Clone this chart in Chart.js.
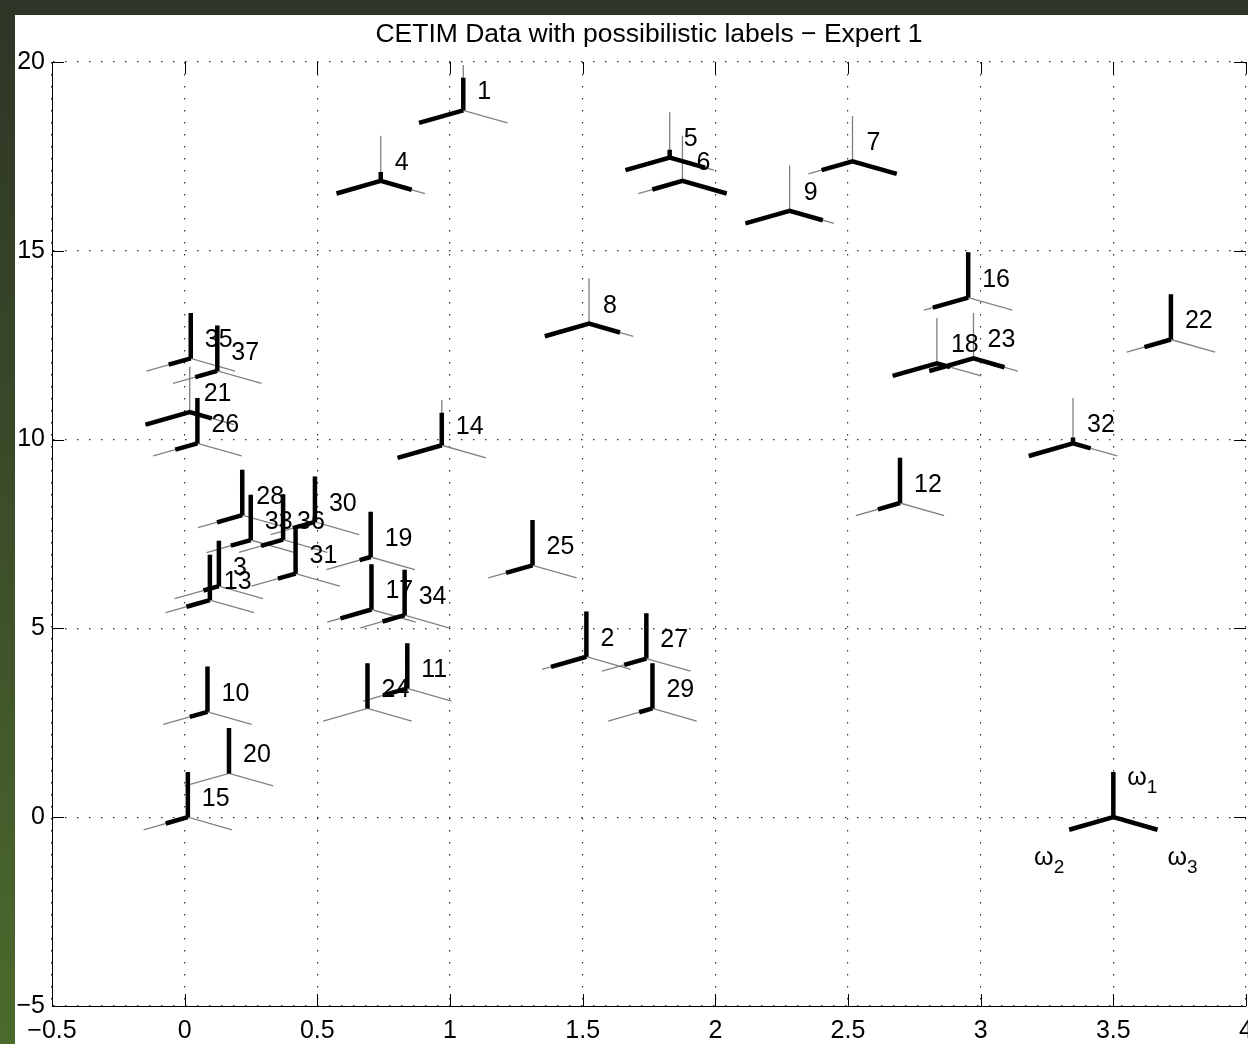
<!DOCTYPE html>
<html>
<head>
<meta charset="utf-8">
<script src="https://cdn.jsdelivr.net/npm/chart.js@4.4.1/dist/chart.umd.min.js"></script>
<style>
  html, body { margin: 0; padding: 0; }
  body {
    width: 1248px; height: 1044px; position: relative; overflow: hidden;
    background: linear-gradient(to bottom, #2e3526 0%, #3a4b29 45%, #4c6a2c 100%);
  }
  #wrap { position: absolute; left: 15px; top: 15px; width: 1233px; height: 1029px; background: #fff; }
</style>
</head>
<body>
<div id="wrap"><canvas id="chart" width="1233" height="1029"></canvas></div>
<script>
// --- data ---
const pointIds = [1, 2, 3, 4, 5, 6, 7, 8, 9, 10, 11, 12, 13, 14, 15, 16, 17, 18, 19,
                  20, 21, 22, 23, 24, 25, 26, 27, 28, 29, 30, 31, 32, 33, 34, 35, 36, 37];
const xValues = [1.050, 1.514, 0.129, 0.739, 1.828, 1.876, 2.517, 1.524, 2.280, 0.086,
                 0.839, 2.696, 0.095, 0.969, 0.012, 2.953, 0.704, 2.835, 0.701, 0.167,
                 0.019, 3.717, 2.973, 0.689, 1.311, 0.048, 1.740, 0.217, 1.763, 0.491,
                 0.418, 3.348, 0.249, 0.829, 0.023, 0.371, 0.123];
const yValues = [18.72, 4.25, 6.12, 16.85, 17.47, 16.85, 17.37, 13.07, 16.06, 2.79,
                 3.41, 8.32, 5.75, 9.85, 0.00, 13.76, 5.50, 12.02, 6.89, 1.16,
                 10.73, 12.65, 12.15, 2.88, 6.67, 9.90, 4.20, 8.00, 2.88, 7.82,
                 6.45, 9.90, 7.34, 5.35, 12.15, 7.35, 11.82];
// possibility degrees for omega1 (up), omega2 (lower left), omega3 (lower right)
const piOmega1 = [0.72, 1, 1, 0.2, 0.17, 0, 0, 0, 0, 1,
                  1, 1, 1, 0.72, 1, 1, 1, 0, 1, 1,
                  0, 1, 0, 1, 1, 1, 1, 1, 1, 1,
                  1, 0.13, 1, 1, 1, 1, 1];
const piOmega2 = [1, 0.8, 0.35, 1, 1, 0.68, 0.7, 1, 1, 0.4,
                  0.55, 0.5, 0.53, 1, 0.5, 0.8, 0.7, 1, 0.25, 0,
                  1, 0.6, 1, 0, 0.6, 0.5, 0.5, 0.57, 0.3, 0.5,
                  0.4, 1, 0.45, 0.5, 0.5, 0.5, 0.5];
const piOmega3 = [0, 0, 0, 0.7, 0.8, 1, 1, 0.7, 0.75, 0,
                  0, 0, 0, 0, 0, 0, 0, 0.3, 0, 0,
                  0.5, 0, 0.7, 0, 0, 0, 0, 0, 0, 0,
                  0, 0.4, 0, 0, 0, 0, 0];
const keyPosition = [3.5, 0];
const classNames = ['ω', 'ω', 'ω'];
const classIndex = ['1', '2', '3'];
const xTicks = [-0.5, 0, 0.5, 1, 1.5, 2, 2.5, 3, 3.5, 4];
const yTicks = [-5, 0, 5, 10, 15, 20];
const titleText = 'CETIM Data with possibilistic labels − Expert 1';

// glyph arm directions (data units)
const ARM_UP = [0, 1.2];
const ARM_LEFT = [-1 / 6, -1 / 3];
const ARM_RIGHT = [1 / 6, -1 / 3];
const FONT = '"Liberation Sans", Arial, Helvetica, sans-serif';

function glyph(cx, cy, p1, p2, p3) {
    return [
        { x: cx + p2 * ARM_LEFT[0], y: cy + p2 * ARM_LEFT[1] },
        { x: cx, y: cy },
        { x: cx + p3 * ARM_RIGHT[0], y: cy + p3 * ARM_RIGHT[1] },
        { x: cx, y: null },
        { x: cx, y: cy },
        { x: cx, y: cy + p1 * ARM_UP[1] },
        { x: cx, y: null }
    ];
}

const grayArms = [];
const blackArms = [];
xValues.forEach((xv, i) => {
    grayArms.push(...glyph(xv, yValues[i], 1, 1, 1));
    blackArms.push(...glyph(xv, yValues[i], piOmega1[i], piOmega2[i], piOmega3[i]));
});
blackArms.push(...glyph(keyPosition[0], keyPosition[1], 1, 1, 1));

const fmt = v => (v < 0 ? '−' : '') + Math.abs(v);

// --- labels next to each glyph, and the omega key ---
const labelPlugin = {
    id: 'glyphLabels',
    afterDatasetsDraw(chart) {
        const { ctx, scales: { x, y } } = chart;
        ctx.save();
        ctx.fillStyle = '#000';
        ctx.textBaseline = 'middle';
        ctx.textAlign = 'left';
        ctx.font = '25px ' + FONT;
        pointIds.forEach((id, i) => {
            ctx.fillText(String(id), x.getPixelForValue(xValues[i]) + 14, y.getPixelForValue(yValues[i]) - 18);
        });

        const kx = keyPosition[0], ky = keyPosition[1];
        const ends = [
            [kx + ARM_UP[0], ky + ARM_UP[1], 14, 6],
            [kx + ARM_LEFT[0], ky + ARM_LEFT[1], -35, 28],
            [kx + ARM_RIGHT[0], ky + ARM_RIGHT[1], 10, 28]
        ];
        ends.forEach((e, k) => {
            const px = x.getPixelForValue(e[0]) + e[2];
            const py = y.getPixelForValue(e[1]) + e[3];
            ctx.font = '25px ' + FONT;
            ctx.fillText(classNames[k], px, py);
            const w = ctx.measureText(classNames[k]).width;
            ctx.font = '19px ' + FONT;
            ctx.fillText(classIndex[k], px + w, py + 10);
        });
        ctx.restore();
    }
};

// --- inward tick marks on all four sides ---
const tickPlugin = {
    id: 'inwardTicks',
    afterDraw(chart) {
        const { ctx, chartArea: a, scales: { x, y } } = chart;
        const len = 12;
        ctx.save();
        ctx.strokeStyle = '#000';
        ctx.lineWidth = 1;
        ctx.beginPath();
        xTicks.forEach(v => {
            const px = Math.round(x.getPixelForValue(v)) + 0.5;
            ctx.moveTo(px, a.bottom); ctx.lineTo(px, a.bottom - len);
            ctx.moveTo(px, a.top); ctx.lineTo(px, a.top + len);
        });
        yTicks.forEach(v => {
            const py = Math.round(y.getPixelForValue(v)) + 0.5;
            ctx.moveTo(a.left, py); ctx.lineTo(a.left + len, py);
            ctx.moveTo(a.right, py); ctx.lineTo(a.right - len, py);
        });
        ctx.stroke();
        ctx.restore();
    }
};

const ctx = document.getElementById('chart').getContext('2d');
new Chart(ctx, {
    type: 'scatter',
    data: {
        datasets: [
            {
                label: 'possibility',
                data: blackArms,
                order: 0,
                showLine: true,
                borderColor: '#000',
                borderWidth: 4.5,
                borderJoinStyle: 'miter',
                pointRadius: 0,
                spanGaps: false
            },
            {
                label: 'full scale',
                data: grayArms,
                order: 1,
                showLine: true,
                borderColor: '#808080',
                borderWidth: 1.3,
                pointRadius: 0,
                spanGaps: false
            }
        ]
    },
    options: {
        responsive: false,
        animation: false,
        events: [],
        layout: { padding: { top: 0, right: 2, bottom: 0, left: 0 } },
        plugins: {
            legend: { display: false },
            tooltip: { enabled: false },
            title: {
                display: true,
                text: titleText,
                fullSize: false,
                color: '#000',
                font: { family: FONT, size: 26.5, weight: 'normal' },
                padding: { top: 3.5, bottom: 11.7 }
            }
        },
        scales: {
            x: {
                type: 'linear',
                min: -0.5,
                max: 4,
                afterBuildTicks: s => { s.ticks = xTicks.map(v => ({ value: v })); },
                afterFit: s => { s.height = 38; s.paddingLeft = 0; s.paddingRight = 0; },
                ticks: {
                    color: '#000',
                    font: { family: FONT, size: 25 },
                    padding: 10,
                    maxRotation: 0,
                    autoSkip: false,
                    callback: v => fmt(v)
                },
                grid: { color: '#333', lineWidth: 1.2, drawTicks: false },
                border: { display: true, color: '#000', width: 1, dash: [1.5, 10.5] }
            },
            y: {
                type: 'linear',
                min: -5,
                max: 20,
                afterBuildTicks: s => { s.ticks = yTicks.map(v => ({ value: v })); },
                afterFit: s => { s.width = 37; s.paddingTop = 0; s.paddingBottom = 0; },
                ticks: {
                    color: '#000',
                    font: { family: FONT, size: 25 },
                    padding: 7,
                    autoSkip: false,
                    callback: v => fmt(v)
                },
                grid: { color: '#333', lineWidth: 1.2, drawTicks: false },
                border: { display: true, color: '#000', width: 1, dash: [1.5, 10.5] }
            }
        }
    },
    plugins: [labelPlugin, tickPlugin]
});
</script>
</body>
</html>
